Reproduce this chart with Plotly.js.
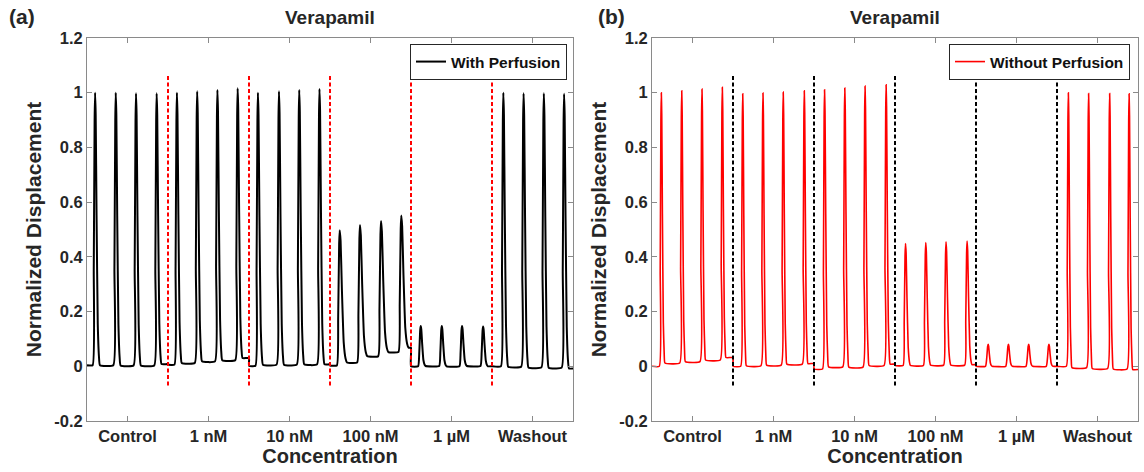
<!DOCTYPE html>
<html>
<head>
<meta charset="utf-8">
<script src="https://cdn.plot.ly/plotly-3.0.1.min.js"></script>
<style>html,body{margin:0;padding:0;background:#fff;}#chart{width:1144px;height:472px;}</style>
</head>
<body>
<div id="chart"></div>
<script>
// ---------- data ----------
const categories = ['Control', '1 nM', '10 nM', '100 nM', '1 µM', 'Washout'];
const categoryCenters = [0.5, 1.5, 2.5, 3.5, 4.5, 5.5];
const boundaries = [1, 2, 3, 4, 5];
const yTickVals = [-0.2, 0, 0.2, 0.4, 0.6, 0.8, 1, 1.2];
const yTickText = ['-0.2', '0', '0.2', '0.4', '0.6', '0.8', '1', '1.2'];

// (a) With Perfusion
const leftPeakX = [0.10, 0.355, 0.605, 0.86,  1.11, 1.36, 1.61, 1.86,  2.11, 2.37, 2.62, 2.87,
                   3.12, 3.37, 3.63, 3.88,  4.12, 4.38, 4.63, 4.89,  5.14, 5.39, 5.64, 5.89];
const leftPeakY = [1.0, 1.0, 0.998, 0.998,  1.0, 1.005, 1.01, 1.016,  1.0, 1.005, 1.01, 1.014,
                   0.497, 0.516, 0.531, 0.551,  0.147, 0.147, 0.147, 0.145,  1.0, 0.998, 0.998, 0.996];
// baseline per segment: before 1st peak, after peak 1..4
const leftBase = [[0.004, 0.004, 0.003, 0.003, 0.008],
                  [0.006, 0.012, 0.018, 0.022, 0.03],
                  [0.002, 0.006, 0.006, 0.007, 0.007],
                  [0.003, 0.014, 0.037, 0.052, 0.068],
                  [0.0, 0.001, 0.0, 0.001, 0.0],
                  [0.0, -0.002, -0.004, -0.005, -0.008]];
const leftRise = [0.03, 0.03, 0.03, 0.035, 0.032, 0.03];
const leftFall = [0.06, 0.06, 0.062, 0.09, 0.06, 0.06];

// (b) Without Perfusion
const rightPeakX = [0.115, 0.367, 0.617, 0.868,  1.12, 1.37, 1.62, 1.88,  2.13, 2.38, 2.63, 2.89,
                    3.13, 3.38, 3.63, 3.89,  4.15, 4.40, 4.65, 4.90,  5.14, 5.39, 5.65, 5.89];
const rightPeakY = [1.0, 1.007, 1.013, 1.02,  0.996, 0.999, 1.002, 1.007,  1.011, 1.017, 1.024, 1.029,
                    0.449, 0.452, 0.455, 0.458,  0.08, 0.08, 0.08, 0.08,  1.0, 0.997, 0.997, 0.996];
const rightBase = [[0.0, 0.012, 0.017, 0.023, 0.032],
                   [0.0, 0.002, 0.004, 0.008, 0.01],
                   [-0.01, -0.002, -0.003, 0.003, 0.008],
                   [0.003, 0.003, 0.004, 0.004, 0.006],
                   [0.0, 0.0, 0.0, 0.0, 0.0],
                   [0.0, -0.005, -0.008, -0.01, -0.012]];
const rightRise = [0.025, 0.025, 0.025, 0.03, 0.033, 0.025];
const rightFall = [0.045, 0.045, 0.05, 0.06, 0.05, 0.045];

// ---------- build trace vertices from the read values ----------
function buildTrace(peakX, peakY, base, rise, fall) {
  const xs = [], ys = [];
  for (let s = 0; s < 6; s++) {
    xs.push(s); ys.push(base[s][0]);
    const r = rise[s], f = fall[s];
    for (let k = 0; k < 4; k++) {
      const i = s * 4 + k, t = peakX[i], p = peakY[i];
      const b0 = base[s][k], b1 = base[s][k + 1];
      xs.push(t - r, t - 0.55 * r, t - 0.2 * r, t,
              t + 0.12 * f, t + 0.3 * f, t + 0.55 * f, t + 0.8 * f, t + f);
      ys.push(b0, b0 + 0.35 * (p - b0), b0 + 0.9 * (p - b0), p,
              b1 + 0.92 * (p - b1), b1 + 0.55 * (p - b1), b1 + 0.15 * (p - b1), b1 + 0.03 * (p - b1), b1);
    }
    xs.push(s + 1); ys.push(base[s][4]);
  }
  return {x: xs, y: ys};
}

const L = buildTrace(leftPeakX, leftPeakY, leftBase, leftRise, leftFall);
const R = buildTrace(rightPeakX, rightPeakY, rightBase, rightRise, rightFall);

const FONT = 'Liberation Sans, Arial, sans-serif';
const TXT = '#262626';
const AX = '#8a8a8a';

const traces = [
  {x: L.x, y: L.y, xaxis: 'x', yaxis: 'y', mode: 'lines', name: 'With Perfusion',
   line: {color: '#000000', width: 2, shape: 'spline', smoothing: 0.4}, legend: 'legend'},
  {x: R.x, y: R.y, xaxis: 'x2', yaxis: 'y2', mode: 'lines', name: 'Without Perfusion',
   line: {color: '#ff0000', width: 1.6, shape: 'spline', smoothing: 0.4}, legend: 'legend2'}
];

function xAxis(domain, anchor) {
  return {domain: domain, anchor: anchor, range: [0, 6], tickmode: 'array', tickvals: categoryCenters,
    ticktext: categories, ticks: 'inside', ticklen: 5, tickcolor: AX, showline: true, linecolor: AX,
    linewidth: 1, mirror: 'allticks', showgrid: false, zeroline: false,
    tickfont: {family: FONT, size: 16.5, color: TXT, weight: 'bold'},
    title: {text: 'Concentration', font: {family: FONT, size: 20, color: TXT, weight: 'bold'}, standoff: 0}};
}
function yAxis(domain, anchor) {
  return {domain: domain, anchor: anchor, range: [-0.2, 1.2], tickmode: 'array', tickvals: yTickVals,
    ticktext: yTickText, ticks: 'inside', ticklen: 5, tickcolor: AX, showline: true, linecolor: AX,
    linewidth: 1, mirror: 'allticks', showgrid: false, zeroline: false,
    tickfont: {family: FONT, size: 16.5, color: TXT, weight: 'bold'},
    title: {text: 'Normalized Displacement', font: {family: FONT, size: 21, color: TXT, weight: 'bold'}, standoff: 6}};
}

const W = 1144, H = 472;
const yDom = [1 - 421 / H, 1 - 38 / H];

const shapes = [];
boundaries.forEach(b => {
  shapes.push({type: 'line', xref: 'x', yref: 'y', x0: b, x1: b, y0: -0.07, y1: 1.07,
    line: {color: '#ff0000', width: 2, dash: '4px,2.5px'}});
  shapes.push({type: 'line', xref: 'x2', yref: 'y2', x0: b, x1: b, y0: -0.07, y1: 1.07,
    line: {color: '#000000', width: 2, dash: '4px,2.5px'}});
});

const annFont = {family: FONT, size: 21, color: TXT, weight: 'bold'};
const titleFont = {family: FONT, size: 19, color: TXT, weight: 'bold'};
const annotations = [
  {text: '(a)', xref: 'paper', yref: 'paper', x: 7 / W, y: 1 - 3 / H, xanchor: 'left', yanchor: 'top', showarrow: false, font: annFont},
  {text: '(b)', xref: 'paper', yref: 'paper', x: 596 / W, y: 1 - 3 / H, xanchor: 'left', yanchor: 'top', showarrow: false, font: annFont},
  {text: 'Verapamil', xref: 'paper', yref: 'paper', x: 330 / W, y: 1 - 5 / H, xanchor: 'center', yanchor: 'top', showarrow: false, font: titleFont},
  {text: 'Verapamil', xref: 'paper', yref: 'paper', x: 895 / W, y: 1 - 5 / H, xanchor: 'center', yanchor: 'top', showarrow: false, font: titleFont}
];

const legendBase = {bgcolor: '#ffffff', bordercolor: '#262626', borderwidth: 1,
  font: {family: FONT, size: 15.5, color: '#111111', weight: 'bold'}, xanchor: 'right', yanchor: 'top',
  itemwidth: 30, tracegroupgap: 0};

const layout = {
  width: W, height: H, autosize: false, showlegend: true,
  margin: {l: 0, r: 0, t: 0, b: 0},
  paper_bgcolor: '#ffffff', plot_bgcolor: '#ffffff',
  xaxis: xAxis([87 / W, 573 / W], 'y'),
  yaxis: yAxis(yDom, 'x'),
  xaxis2: xAxis([652 / W, 1138 / W], 'y2'),
  yaxis2: yAxis(yDom, 'x2'),
  legend: Object.assign({}, legendBase, {x: 567 / W, y: 1 - 44 / H}),
  legend2: Object.assign({}, legendBase, {x: 1130 / W, y: 1 - 44 / H}),
  shapes: shapes,
  annotations: annotations
};

Plotly.newPlot('chart', traces, layout, {displayModeBar: false, staticPlot: true});
</script>
</body>
</html>
